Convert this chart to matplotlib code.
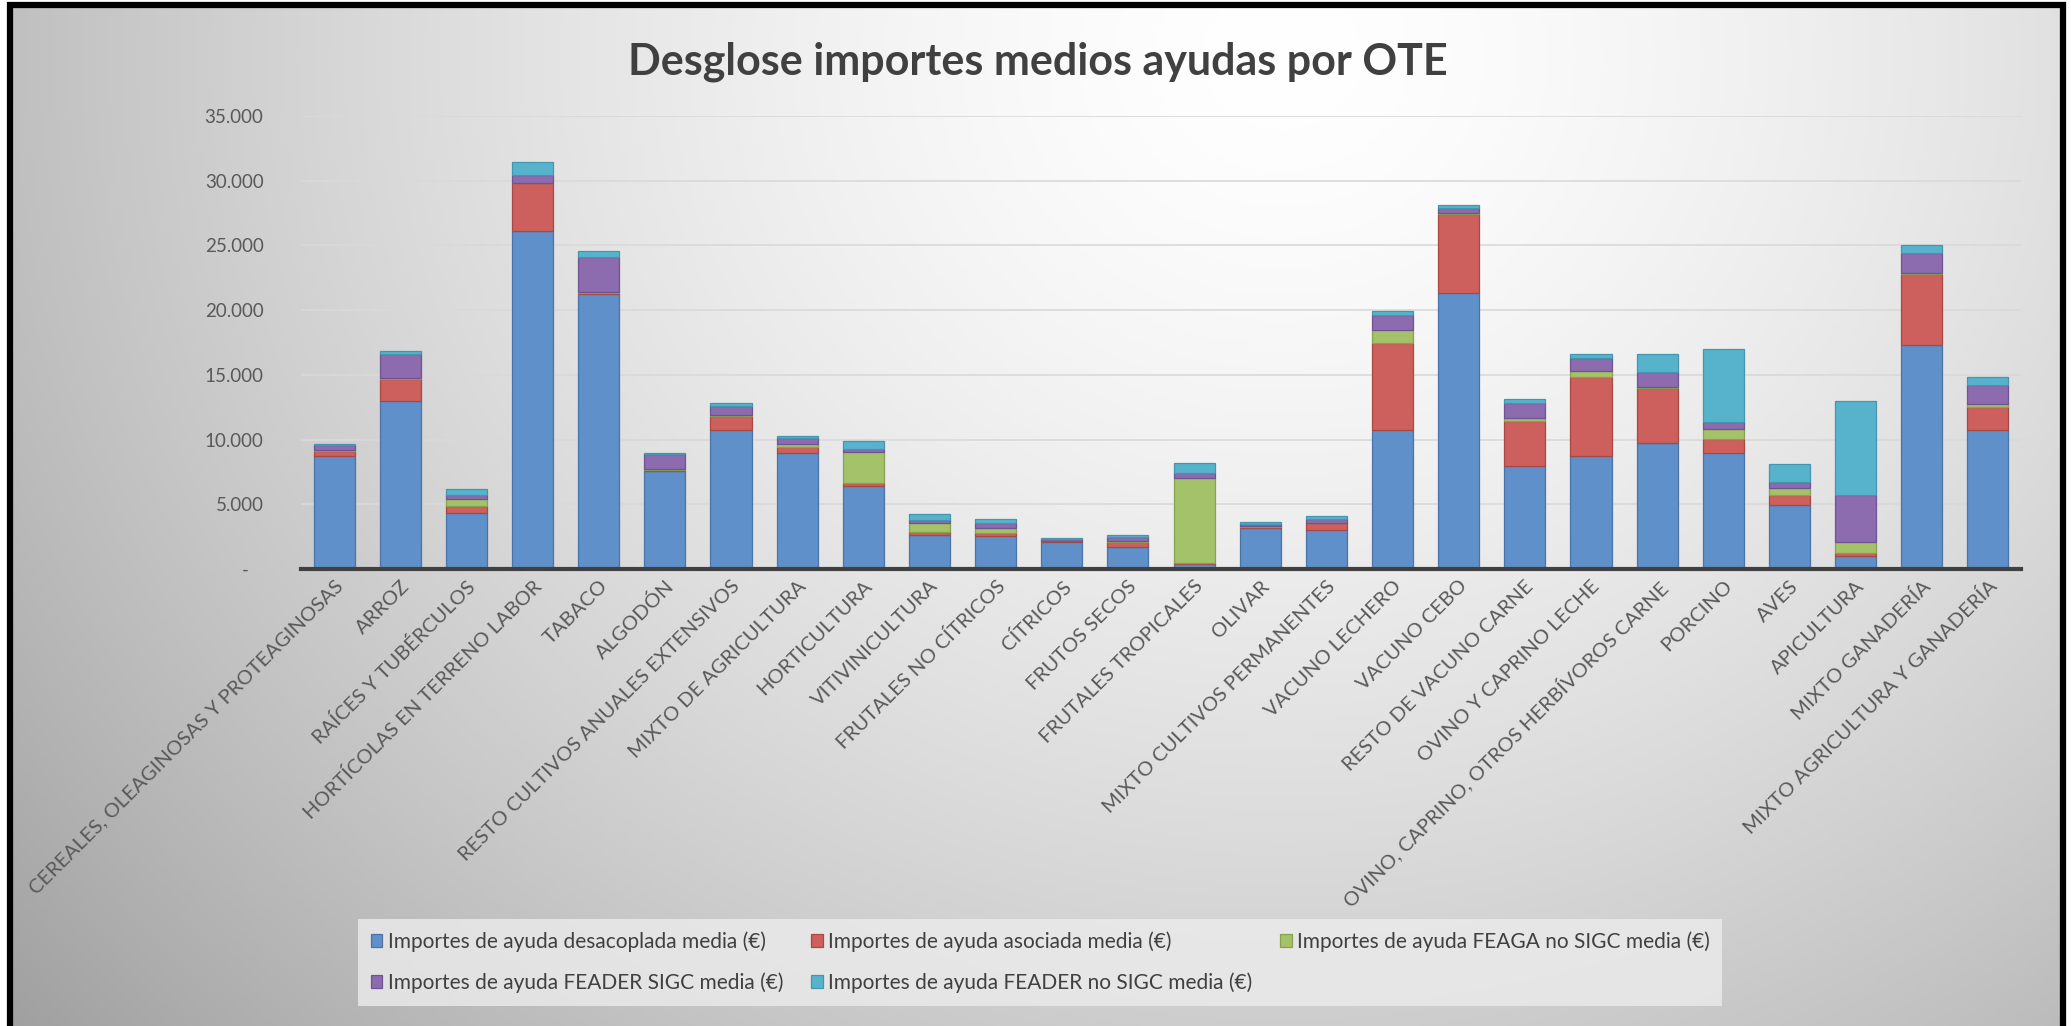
import numpy as np
import matplotlib
matplotlib.use("Agg")
import matplotlib.pyplot as plt
from matplotlib.ticker import FuncFormatter
from matplotlib.lines import Line2D

plt.rcParams['font.family'] = ['Lato', 'DejaVu Sans']

categories = [
    "CEREALES, OLEAGINOSAS Y PROTEAGINOSAS", "ARROZ", "RAÍCES Y TUBÉRCULOS",
    "HORTÍCOLAS EN TERRENO LABOR", "TABACO", "ALGODÓN",
    "RESTO CULTIVOS ANUALES EXTENSIVOS", "MIXTO DE AGRICULTURA", "HORTICULTURA",
    "VITIVINICULTURA", "FRUTALES NO CÍTRICOS", "CÍTRICOS", "FRUTOS SECOS",
    "FRUTALES TROPICALES", "OLIVAR", "MIXTO CULTIVOS PERMANENTES",
    "VACUNO LECHERO", "VACUNO CEBO", "RESTO DE VACUNO CARNE",
    "OVINO Y CAPRINO LECHE", "OVINO, CAPRINO, OTROS HERBÍVOROS CARNE",
    "PORCINO", "AVES", "APICULTURA", "MIXTO GANADERÍA",
    "MIXTO AGRICULTURA Y GANADERÍA",
]

desacoplada = [8750, 13000, 4300, 26150, 21250, 7550, 10750, 8950, 6450, 2650,
               2550, 2080, 1700, 380, 3200, 3050, 10750, 21350, 7950, 8750,
               9750, 8950, 4950, 980, 17300, 10750]
asociada = [400, 1700, 600, 3650, 100, 100, 1100, 450, 180, 180,
            200, 50, 390, 50, 50, 470, 6700, 6100, 3470, 6080,
            4200, 1130, 740, 270, 5490, 1780]
feaga_no_sigc = [50, 50, 500, 50, 50, 50, 50, 250, 2430, 710,
                 390, 50, 50, 6600, 50, 50, 1040, 50, 240, 500,
                 100, 740, 530, 830, 100, 180]
feader_sigc = [350, 1900, 300, 600, 2700, 1200, 700, 450, 240, 240,
               390, 100, 300, 350, 200, 280, 1100, 400, 1190, 980,
               1150, 500, 500, 3620, 1500, 1540]
feader_no_sigc = [100, 200, 500, 1000, 500, 50, 200, 150, 590, 440,
                  360, 100, 200, 830, 150, 240, 350, 250, 270, 300,
                  1420, 5670, 1420, 7300, 680, 600]

series_labels = [
    "Importes de ayuda desacoplada media (€)",
    "Importes de ayuda asociada media (€)",
    "Importes de ayuda FEAGA no SIGC media (€)",
    "Importes de ayuda FEADER SIGC media (€)",
    "Importes de ayuda FEADER no SIGC media (€)",
]
series = [desacoplada, asociada, feaga_no_sigc, feader_sigc, feader_no_sigc]
colors = ["#6090C9", "#CD605C", "#A4C26A", "#8C6CAF", "#57B3CC"]
edges = ["#4A74A8", "#A84744", "#86A24E", "#6E5490", "#4596AD"]

W, H = 2071, 1026
fig = plt.figure(figsize=(W / 100, H / 100), dpi=100)

# background gradient inside the frame
bg = fig.add_axes([0, 0, 1, 1], zorder=-10)
yy, xx = np.mgrid[0:1:300j, 0:1:600j]
d = np.sqrt(((xx - 0.62) / 0.72) ** 2 + ((yy - 0.05) / 1.3) ** 2)
val = 1.0 - 0.31 * np.clip(d, 0, 1.2) ** 1.5
img = np.dstack([val, val, val])
bg.imshow(img, extent=[10, 2062, H, 5], aspect='auto')
bg.set_xlim(0, W)
bg.set_ylim(H, 0)
bg.axis('off')
# frame (left, top, right)
bg.add_line(Line2D([9.5, 9.5, 2062.5, 2062.5], [H, 5, 5, H],
                   color='black', linewidth=4.5, solid_joinstyle='miter'))

ax = fig.add_axes([301 / W, 1 - 569 / H, (2021 - 301) / W, (569 - 116) / H])
ax.set_facecolor('none')

x = np.arange(len(categories))
bottom = np.zeros(len(categories))
handles = []
for vals, lab, c, ec in zip(series, series_labels, colors, edges):
    b = ax.bar(x, vals, 0.62, bottom=bottom, color=c, edgecolor=ec,
               linewidth=0.9, label=lab, zorder=3)
    handles.append(b)
    bottom += np.array(vals)

ax.set_xlim(-0.5, len(categories) - 0.5)
ax.set_ylim(0, 35000)
ax.set_yticks(np.arange(0, 35001, 5000))


def fmt(v, pos):
    if v == 0:
        return "-   "
    return f"{int(v):,}".replace(",", ".")


ax.yaxis.set_major_formatter(FuncFormatter(fmt))
ax.grid(axis='y', color='#d9d9d9', linewidth=1.2, zorder=0)
ax.set_axisbelow(True)
for s in ['top', 'right', 'left']:
    ax.spines[s].set_visible(False)
ax.spines['bottom'].set_color('#404040')
ax.spines['bottom'].set_linewidth(3)
ax.spines['bottom'].set_zorder(5)
ax.tick_params(axis='y', length=0, pad=27, labelsize=13.5, labelcolor='#595959')
ax.tick_params(axis='x', length=0, pad=6, labelcolor='#595959')
ax.set_xticks(x)
ax.set_xticklabels(categories, rotation=45, ha='right', rotation_mode='anchor',
                   fontsize=14.6)

fig.text(1038 / W, 1 - 62 / H, "Desglose importes medios ayudas por OTE",
         ha='center', va='center', fontsize=31, fontweight='bold', color='#404040')

order = [0, 3, 1, 4, 2]
leg = fig.legend(handles=[handles[i] for i in order],
                 labels=[series_labels[i] for i in order], ncol=3,
                 loc='lower left', bbox_to_anchor=(348 / W, 1 - 1016 / H),
                 frameon=True, fontsize=15, handlelength=0.55, handleheight=0.6,
                 handletextpad=0.25, columnspacing=1.35, labelspacing=1.0,
                 borderpad=0.6, fancybox=False)
leg.get_frame().set_facecolor('#ececec')
leg.get_frame().set_edgecolor('none')
leg.get_frame().set_alpha(0.8)
for t in leg.get_texts():
    t.set_color('#404040')

fig.savefig("out.png", dpi=100)
